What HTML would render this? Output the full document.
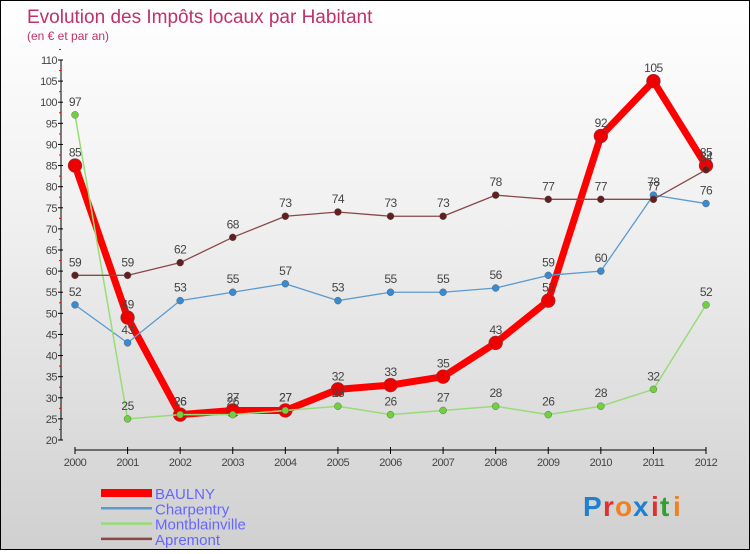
<!DOCTYPE html>
<html><head><meta charset="utf-8"><style>
body{margin:0;width:750px;height:550px;overflow:hidden;font-family:"Liberation Sans",sans-serif}
#wrap{position:relative;width:748px;height:548px;border:1px solid #000;background:linear-gradient(#fff 0%,#f0f0f0 40%,#d0d0d0 100%)}
svg text{font-family:"Liberation Sans",sans-serif}
</style></head><body>
<div id="wrap">
<svg id="c" width="748" height="548">
<text x="26" y="22" font-size="19" fill="#c0306a">Evolution des Impôts locaux par Habitant</text>
<text x="26" y="39" font-size="12" fill="#c0306a">(en € et par an)</text>
<g id="axes"></g><g id="series"></g><g id="legend"></g>
<g font-size="28" font-weight="bold">
<text x="582" y="515" fill="#1f7fd0">P</text><text x="602" y="515" fill="#e03030">r</text><text x="614" y="515" fill="#f08020">o</text><text x="632" y="515" fill="#1f7fd0">x</text><text x="650" y="515" fill="#e03030">i</text><text x="659" y="515" fill="#30a030">t</text><text x="672" y="515" fill="#f08020">i</text>
</g>
</svg></div>
<script>
const years=[2000,2001,2002,2003,2004,2005,2006,2007,2008,2009,2010,2011,2012];
const yTicks=[20,25,30,35,40,45,50,55,60,65,70,75,80,85,90,95,100,105,110];
const baulny=[85,49,26,27,27,32,33,35,43,53,92,105,85];
const charpentry=[52,43,53,55,57,53,55,55,56,59,60,78,76];
const montblainville=[97,25,26,26,27,28,26,27,28,26,28,32,52];
const apremont=[59,59,62,68,73,74,73,73,78,77,77,77,84];
const NS="http://www.w3.org/2000/svg";
const xS=i=>74+i*(631/12);
const yS=v=>439-(v-20)*(380/90);
function mk(t,a,p){const e=document.createElementNS(NS,t);for(const k in a)e.setAttribute(k,a[k]);p.appendChild(e);return e;}
const ax=document.getElementById('axes');
const yl=mk('line',{x1:60,y1:yS(110),x2:60,y2:yS(20),stroke:'#000'},ax);


yTicks.forEach(v=>{
 mk('line',{x1:57,x2:62,y1:yS(v),y2:yS(v),stroke:'#000'},ax);
 mk('line',{x1:58,x2:60,y1:yS(v+2.5),y2:yS(v+2.5),stroke:'#e00'},ax);
 const t=mk('text',{x:56,y:yS(v)+4,'font-size':11,fill:'#444','text-anchor':'end','letter-spacing':'-0.5'},ax);
 t.textContent=v;
 
 
});
const xl=mk('line',{x1:xS(0),y1:449,x2:xS(12),y2:449,stroke:'#000'},ax);


years.forEach((y,i)=>{
 mk('line',{x1:xS(i),x2:xS(i),y1:446,y2:453,stroke:'#000'},ax);
 const t=mk('text',{x:xS(i),y:465,'font-size':11,fill:'#444','text-anchor':'middle','letter-spacing':'-0.5'},ax);
 t.textContent=y;
 
 
});
const sg=document.getElementById('series');
const defs=[
 {name:'BAULNY',d:baulny,c:'#f00',w:7,r:7,mc:'#e00'},
 {name:'Charpentry',d:charpentry,c:'#5a9ad0',w:1.3,r:3.5,mc:'#3a8ad0'},
 {name:'Montblainville',d:montblainville,c:'#98dc78',w:1.5,r:3.5,mc:'#70d040'},
 {name:'Apremont',d:apremont,c:'#8a4848',w:1.3,r:3.5,mc:'#602020'}];
defs.forEach(s=>{
 const g=mk('g',{},sg);
 
 
 const l=mk('polyline',{points:s.d.map((v,i)=>xS(i)+','+yS(v)).join(' '),fill:'none',stroke:s.c,'stroke-width':s.w,'stroke-linejoin':'round'},g);
 
 
 s.d.forEach((v,i)=>{
  const p=mk('circle',{cx:xS(i),cy:yS(v),r:s.r,fill:s.mc,stroke:'#555','stroke-width':0.4},g);
  
  
  const t=mk('text',{x:xS(i),y:yS(v)-9,'font-size':12,fill:'#444','text-anchor':'middle','letter-spacing':'-0.5'},g);
  t.textContent=v;
  
  
 });
});
const lg=document.getElementById('legend');
defs.forEach((s,i)=>{
 const y=492+i*15.3;
 const g=mk('g',{},lg);
 
 
 mk('line',{x1:100,x2:151,y1:y,y2:y,stroke:s.c,'stroke-width':i==0?8:2.5},g);
 const t=mk('text',{x:154,y:y+6,'font-size':15,fill:'#6666ff'},g);
 t.textContent=s.name;
 
 
});
</script>
</body></html>
